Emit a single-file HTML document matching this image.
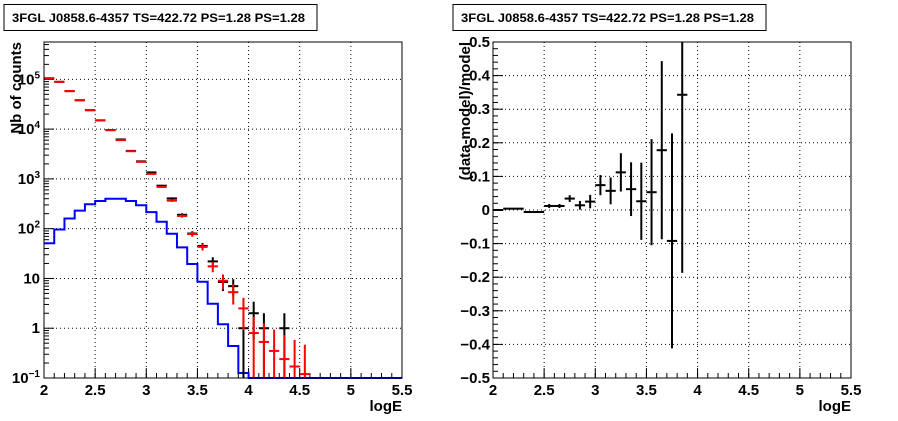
<!DOCTYPE html>
<html><head><meta charset="utf-8"><style>
body{margin:0;background:#fff;}
svg{display:block;font-family:"Liberation Sans",Arial,sans-serif;font-weight:bold;}
</style></head><body>
<svg id="c" width="898" height="421" viewBox="0 0 898 421" xmlns="http://www.w3.org/2000/svg"></svg>
<script>
const binCenters=[2.05,2.15,2.25,2.35,2.45,2.55,2.65,2.75,2.85,2.95,3.05,3.15,3.25,3.35,3.45,3.55,3.65,3.75,3.85,3.95,4.05,4.15,4.25,4.35,4.45,4.55];
const modelCounts=[105000,89000,58000,38000,24000,15000,9500,6000,3600,2200,1260,690,365,180,78,43,17.5,9,5.3,2.5,0.8,0.53,0.35,0.24,0.17,0.12];
const dataCenters=[2.05,2.15,2.25,2.35,2.45,2.55,2.65,2.75,2.85,2.95,3.05,3.15,3.25,3.35,3.45,3.55,3.65,3.75,3.85,3.95,4.05,4.15,4.35];
const dataCounts=[105000,89000,58000,38000,24000,15000,9600,6200,3650,2250,1350,730,405,190,80,45,22,8.5,7,1,2,1,1];
const blueEdges=[2.0,2.1,2.2,2.3,2.4,2.5,2.6,2.7,2.8,2.9,3.0,3.1,3.2,3.3,3.4,3.5,3.6,3.7,3.8,3.9,4.0,5.5];
const blueCounts=[51,96,160,230,310,360,400,400,360,295,215,138,79,42,19.5,8.6,3.1,1.2,0.44,0.126,0.1];
const residCenters=[2.05,2.15,2.25,2.35,2.45,2.55,2.65,2.75,2.85,2.95,3.05,3.15,3.25,3.35,3.45,3.55,3.65,3.75,3.85];
const residValues=[0.0,0.004,0.004,-0.006,-0.006,0.012,0.012,0.034,0.014,0.025,0.074,0.057,0.112,0.062,0.026,0.053,0.178,-0.092,0.343];
const residErrors=[0.002,0.002,0.002,0.003,0.003,0.006,0.006,0.01,0.013,0.02,0.03,0.04,0.057,0.08,0.115,0.158,0.265,0.32,0.53];
const xTicks=[2,2.5,3,3.5,4,4.5,5,5.5];
const xTickLabels=["2","2.5","3","3.5","4","4.5","5","5.5"];
const residTicks=[-0.5,-0.4,-0.3,-0.2,-0.1,0,0.1,0.2,0.3,0.4,0.5];
const residTickLabels=["\u22120.5","\u22120.4","\u22120.3","\u22120.2","\u22120.1","0","0.1","0.2","0.3","0.4","0.5"];

const NS="http://www.w3.org/2000/svg";
const svg=document.getElementById('c');
function mk(tag,attrs,parent){const e=document.createElementNS(NS,tag);for(const k in attrs)e.setAttribute(k,attrs[k]);(parent||svg).appendChild(e);return e;}
const T=42,B=378;
const L={x0:44,x1:402}, R={x0:493,x1:851};
function sx(p,v){return p.x0+(v-2)/3.5*(p.x1-p.x0);}
const LMAX=5.75,LMIN=-1;
function syLog(v){const l=Math.log10(Math.max(v,1e-9));const c=Math.min(Math.max(l,LMIN),LMAX);return B-(c-LMIN)/(LMAX-LMIN)*(B-T);}
function syLin(v){const c=Math.min(Math.max(v,-0.5),0.5);return B-(c+0.5)*(B-T);}

function titleBox(x,name){
  const g=mk('g',{});
  
  
  mk('rect',{x:x,y:4.5,width:313,height:26,fill:'#fff',stroke:'#000','stroke-width':1},g);
  const t=mk('text',{x:x+8,y:22,'font-size':12,textLength:293,lengthAdjust:'spacingAndGlyphs'},g);
  t.textContent='3FGL J0858.6-4357 TS=422.72 PS=1.28 PS=1.28';
}
function xAxis(p,g){
  for(let i=0;i<xTicks.length;i++){
    const x=sx(p,xTicks[i]);
    if(i>0&&i<xTicks.length-1) mk('line',{x1:x,y1:T,x2:x,y2:B,stroke:'#000','stroke-dasharray':'1,3','stroke-width':1},g);
    mk('line',{x1:x,y1:B,x2:x,y2:B-10,stroke:'#000'},g);
    const t=mk('text',{x:x,y:395,'font-size':15,'text-anchor':'middle'},g);
    t.textContent=xTickLabels[i];
  }
  for(let v=2.1;v<5.5;v+=0.1){mk('line',{x1:sx(p,v),y1:B,x2:sx(p,v),y2:B-5,stroke:'#000'},g);}
  const t=mk('text',{x:p.x1,y:411,'font-size':15,'text-anchor':'end'},g);
  t.textContent='logE';
}
// LEFT
titleBox(4,'left-title-box');
const gl=mk('g',{});


xAxis(L,gl);
for(let d=-1;d<=5;d++){
  const y=syLog(Math.pow(10,d));
  if(d>-1) mk('line',{x1:L.x0,y1:y,x2:L.x1,y2:y,stroke:'#000','stroke-dasharray':'1,3'},gl);
  mk('line',{x1:L.x0,y1:y,x2:L.x0+10,y2:y,stroke:'#000'},gl);
  for(let m=2;m<=9;m++){const v=m*Math.pow(10,d);if(Math.log10(v)<=LMAX) mk('line',{x1:L.x0,y1:syLog(v),x2:L.x0+5,y2:syLog(v),stroke:'#000'},gl);}
  const lab=mk('text',{x:L.x0-4,y:y+5,'font-size':15,'text-anchor':'end'},gl);
  if(d===0) lab.textContent='1'; else if(d===1) lab.textContent='10';
  else{lab.textContent='10';const s=mk('tspan',{'font-size':10,dy:-6},lab);s.textContent=String(d).replace('-','\u2212');}
}
const yt=mk('text',{transform:'translate(21,42) rotate(-90)','font-size':15,'text-anchor':'end'},gl);
yt.textContent='Nb of counts';
let pts=[];
for(let i=0;i<blueCounts.length;i++){const y=syLog(blueCounts[i]);pts.push(sx(L,blueEdges[i])+','+y,sx(L,blueEdges[i+1])+','+y);}
const bl=mk('polyline',{points:pts.join(' '),fill:'none',stroke:'#0000ff','stroke-width':2},gl);


function errPt(g,p,xc,v,err,color,name){
  const e=mk('g',{stroke:color,'stroke-width':2},g);
  
  
  const y=syLog(v);
  mk('line',{x1:sx(p,xc-0.05),y1:y,x2:sx(p,xc+0.05),y2:y},e);
  const lo=v-err>0?syLog(v-err):B;
  mk('line',{x1:sx(p,xc),y1:syLog(v+err),x2:sx(p,xc),y2:lo},e);
}
for(let i=0;i<dataCounts.length;i++) errPt(gl,L,dataCenters[i],dataCounts[i],Math.sqrt(dataCounts[i]),'#000','data-point');
for(let i=0;i<modelCounts.length;i++) errPt(gl,L,binCenters[i],modelCounts[i],Math.sqrt(modelCounts[i]),'#ff0000','model-point');
mk('rect',{x:L.x0,y:T,width:L.x1-L.x0,height:B-T,fill:'none',stroke:'#000'},gl);

// RIGHT
titleBox(453,'right-title-box');
const gr=mk('g',{});


xAxis(R,gr);
for(let i=0;i<residTicks.length;i++){
  const y=syLin(residTicks[i]);
  if(i>0&&i<residTicks.length-1) mk('line',{x1:R.x0,y1:y,x2:R.x1,y2:y,stroke:'#000','stroke-dasharray':'1,3'},gr);
  mk('line',{x1:R.x0,y1:y,x2:R.x0+10,y2:y,stroke:'#000'},gr);
  const t=mk('text',{x:R.x0-3,y:y+5,'font-size':15,'text-anchor':'end'},gr);
  t.textContent=residTickLabels[i];
}
for(let v=-0.48;v<0.5;v+=0.02){mk('line',{x1:R.x0,y1:syLin(v),x2:R.x0+5,y2:syLin(v),stroke:'#000'},gr);}
const yt2=mk('text',{transform:'translate(470,42) rotate(-90)','font-size':15,'text-anchor':'end'},gr);
yt2.textContent='(data-model)/model';
for(let i=0;i<residValues.length;i++){
  const e=mk('g',{stroke:'#000','stroke-width':2},gr);
  
  
  const xc=residCenters[i],v=residValues[i],er=residErrors[i];
  mk('line',{x1:sx(R,xc-0.05),y1:syLin(v),x2:sx(R,xc+0.05),y2:syLin(v)},e);
  mk('line',{x1:sx(R,xc),y1:syLin(v+er),x2:sx(R,xc),y2:syLin(v-er)},e);
}
mk('rect',{x:R.x0,y:T,width:R.x1-R.x0,height:B-T,fill:'none',stroke:'#000'},gr);
</script>
</body></html>
